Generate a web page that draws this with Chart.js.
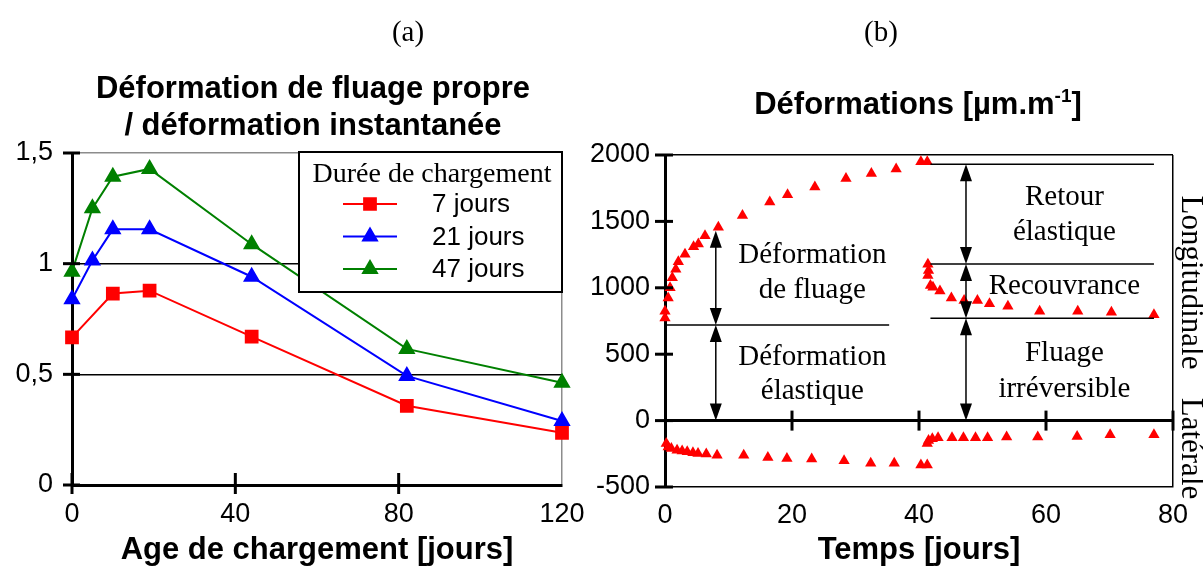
<!DOCTYPE html>
<html><head><meta charset="utf-8">
<script src="https://cdn.jsdelivr.net/npm/chart.js@4/dist/chart.umd.min.js"></script>
<style>
html,body{margin:0;padding:0;background:#fff;width:1203px;height:569px;overflow:hidden;position:relative}
.wrap{position:absolute;top:0}
#wa{left:0;width:600px;height:569px}
#wb{left:570px;width:633px;height:569px}
.lbl{position:absolute;font-family:"Liberation Serif","Times New Roman",serif;font-size:29px;color:#000;transform:translate(-50%,-50%);white-space:nowrap;line-height:1}
.ttl{position:absolute;font-family:"Liberation Sans",Arial,sans-serif;font-weight:bold;font-size:31px;color:#000;transform:translate(-50%,-50%);white-space:nowrap;text-align:center;line-height:37px}
.ttl sup{font-size:19px;vertical-align:12px;line-height:0}
</style></head>
<body>
<div class="wrap" id="wa"><canvas id="ca" width="600" height="569"></canvas></div>
<div class="wrap" id="wb"><canvas id="cb" width="633" height="569"></canvas></div>
<div class="lbl" style="left:408px;top:31px">(a)</div>
<div class="lbl" style="left:881px;top:31px">(b)</div>
<div class="ttl" style="left:313px;top:106px">Déformation de fluage propre<br>/ déformation instantanée</div>
<div class="ttl" style="left:918px;top:103px">Déformations [µm.m<sup>-1</sup>]</div>
<script>
// ---------- Panel (a) data ----------
const ages7 = [0, 10, 19, 44, 82, 120];
const ratio7 = [0.667, 0.865, 0.878, 0.670, 0.358, 0.236];
const ages = [0, 5, 10, 19, 44, 82, 120];
const ratio21 = [0.839, 1.014, 1.155, 1.155, 0.941, 0.493, 0.289];
const ratio47 = [0.964, 1.250, 1.393, 1.428, 1.088, 0.615, 0.462];
const seriesLabels = ['7 jours', '21 jours', '47 jours'];
const legendTitle = 'Durée de chargement';
const ageTickLabels = ['0', '40', '80', '120'];
const ratioTickLabels = ['0', '0,5', '1', '1,5'];
const xTitleA = 'Age de chargement [jours]';

// ---------- Panel (b) data ----------
const tLong = [0, 0, 0.5, 0.8, 1.15, 1.7, 2.1, 3.15, 4.5, 5.25, 6.3, 8.4, 12.2, 16.5, 19.3, 23.6, 28.5, 32.5, 36.4, 40.3, 41.3,
  41.4, 41.5, 41.4, 41.8, 42.2, 43.3, 45.1, 47.1, 49.2, 51.1, 54.0, 59.0, 65.0, 70.3, 77.0];
const epsLong = [772, 823, 924, 1000, 1076, 1139, 1197, 1253, 1309, 1329, 1392, 1456, 1544, 1646, 1701, 1759, 1823, 1861, 1894, 1949, 1949,
  1177, 1131, 1093, 1018, 1005, 975, 924, 904, 904, 879, 861, 823, 823, 816, 798];
const tLat = [0.2, 0.5, 1.0, 1.9, 2.7, 3.5, 4.4, 5.2, 6.5, 8.2, 12.4, 16.2, 19.2, 23.1, 28.2, 32.4, 36.1, 40.3, 41.3,
  41.3, 41.5, 42.1, 43.0, 45.2, 47.0, 48.9, 50.8, 53.8, 58.7, 64.9, 70.1, 77.0];
const epsLat = [-173, -198, -210, -223, -228, -235, -243, -248, -252, -260, -260, -277, -285, -290, -302, -322, -322, -334, -334,
  -173, -149, -136, -129, -129, -129, -129, -129, -124, -124, -119, -106, -106];
const timeTickLabels = ['0', '20', '40', '60', '80'];
const strainTickLabels = ['-500', '0', '500', '1000', '1500', '2000'];
const xTitleB = 'Temps [jours]';
const sideLabels = [{text: 'Longitudinale', y: 1040}, {text: 'Latérale', y: -210}];
// annotation guides (data units)
const guideLines = [{y: 720, x0: 0, x1: 35.3}, {y: 1930, x0: 41.8, x1: 77}, {y: 1180, x0: 41.8, x1: 77}, {y: 770, x0: 41.8, x1: 77}];
const guideArrows = [{x: 8, y0: 1430, y1: 720}, {x: 8, y0: 720, y1: 0}, {x: 47.4, y0: 1930, y1: 1180}, {x: 47.4, y0: 1180, y1: 770}, {x: 47.4, y0: 770, y1: 0}];
const guideTexts = [
  {text: 'Déformation', x: 23.2, y: 1185}, {text: 'de fluage', x: 23.2, y: 925},
  {text: 'Déformation', x: 23.2, y: 420}, {text: 'élastique', x: 23.2, y: 160},
  {text: 'Retour', x: 62.9, y: 1620}, {text: 'élastique', x: 62.9, y: 1360},
  {text: 'Recouvrance', x: 62.9, y: 950},
  {text: 'Fluage', x: 62.9, y: 450}, {text: 'irréversible', x: 62.9, y: 178}
];

const SANS = '"Liberation Sans", Arial, sans-serif';
const SERIF = '"Liberation Serif", "Times New Roman", serif';
Chart.defaults.font.family = SANS;
Chart.defaults.color = '#000';

const pts = (xs, ys) => xs.map((x, i) => ({x: x, y: ys[i]}));

// crossing tick marks on the axes
const crossTicks = {
  id: 'crossTicks',
  afterDraw(chart, args, o) {
    const ctx = chart.ctx, xs = chart.scales.x, ys = chart.scales.y;
    ctx.save();
    ctx.strokeStyle = '#000'; ctx.lineWidth = 3;
    const ax = xs.getPixelForValue(o.yAxisAt);
    o.yTicks.forEach(v => {
      const p = ys.getPixelForValue(v);
      ctx.beginPath(); ctx.moveTo(ax - o.yOut, p); ctx.lineTo(ax + o.yIn, p); ctx.stroke();
    });
    const ay = ys.getPixelForValue(o.xAxisAt);
    o.xTicks.forEach(v => {
      const p = xs.getPixelForValue(v);
      ctx.beginPath(); ctx.moveTo(p, ay - o.xUp); ctx.lineTo(p, ay + o.xDown); ctx.stroke();
    });
    ctx.restore();
  }
};

// boxed legend for panel (a)
const boxLegend = {
  id: 'boxLegend',
  afterDatasetsDraw(chart) {
    const ctx = chart.ctx, ca = chart.chartArea;
    const w = 263, h = 140;
    const L = ca.right - w, T = ca.top - 1;
    ctx.save();
    ctx.fillStyle = '#fff';
    ctx.fillRect(L, T, w, h);
    ctx.strokeStyle = '#000'; ctx.lineWidth = 2;
    ctx.strokeRect(L, T, w, h);
    ctx.fillStyle = '#000';
    ctx.font = '28px ' + SERIF;
    ctx.textAlign = 'center'; ctx.textBaseline = 'alphabetic';
    ctx.fillText(legendTitle, L + 133, T + 30);
    chart.data.datasets.forEach((ds, i) => {
      const y = T + 52 + i * 32.5;
      ctx.strokeStyle = ds.borderColor; ctx.lineWidth = 2;
      ctx.beginPath(); ctx.moveTo(L + 44, y); ctx.lineTo(L + 98, y); ctx.stroke();
      ctx.fillStyle = ds.pointBackgroundColor; ctx.strokeStyle = ds.pointBorderColor;
      Chart.helpers.drawPoint(ctx, {pointStyle: ds.pointStyle, radius: ds.pointRadius, rotation: 0, borderWidth: 1}, L + 71, y);
      ctx.fillStyle = '#000';
      ctx.font = '26px ' + SANS;
      ctx.textAlign = 'left'; ctx.textBaseline = 'middle';
      ctx.fillText(ds.label, L + 133, y + 1);
    });
    ctx.restore();
  }
};

// annotations for panel (b)
const guides = {
  id: 'guides',
  afterDatasetsDraw(chart) {
    const ctx = chart.ctx, xs = chart.scales.x, ys = chart.scales.y, ca = chart.chartArea;
    const X = v => xs.getPixelForValue(v), Y = v => ys.getPixelForValue(v);
    ctx.save();
    ctx.strokeStyle = '#000'; ctx.fillStyle = '#000'; ctx.lineWidth = 1.5;
    guideLines.forEach(g => {
      ctx.beginPath(); ctx.moveTo(X(g.x0), Y(g.y)); ctx.lineTo(X(g.x1), Y(g.y)); ctx.stroke();
    });
    const head = (x, tipY, dir) => { // dir -1 points up, +1 points down
      ctx.beginPath(); ctx.moveTo(x, tipY); ctx.lineTo(x - 6, tipY - dir * 17); ctx.lineTo(x + 6, tipY - dir * 17); ctx.closePath(); ctx.fill();
    };
    guideArrows.forEach(a => {
      const x = X(a.x), yt = Y(a.y0), yb = Y(a.y1);
      ctx.beginPath(); ctx.moveTo(x, yt + 10); ctx.lineTo(x, yb - 10); ctx.stroke();
      head(x, yt, -1); head(x, yb, 1);
    });
    ctx.font = '29px ' + SERIF;
    ctx.textAlign = 'center'; ctx.textBaseline = 'alphabetic';
    guideTexts.forEach(t => ctx.fillText(t.text, X(t.x), Y(t.y)));
    ctx.font = '31px ' + SERIF;
    ctx.textBaseline = 'middle';
    sideLabels.forEach(s => {
      ctx.save();
      ctx.translate(ca.right + 17, Y(s.y));
      ctx.rotate(Math.PI / 2);
      ctx.fillText(s.text, 0, 0);
      ctx.restore();
    });
    ctx.restore();
  }
};

// ---------- Chart (a) ----------
new Chart(document.getElementById('ca'), {
  type: 'scatter',
  data: {
    datasets: [
      {label: seriesLabels[0], data: pts(ages7, ratio7), showLine: true, borderColor: '#ff0000', backgroundColor: '#ff0000',
        pointBackgroundColor: '#ff0000', pointBorderColor: '#ff0000', pointStyle: 'rect', pointRadius: 8.3, borderWidth: 2, clip: false},
      {label: seriesLabels[1], data: pts(ages, ratio21), showLine: true, borderColor: '#0000ff', backgroundColor: '#0000ff',
        pointBackgroundColor: '#0000ff', pointBorderColor: '#0000ff', pointStyle: 'triangle', pointRadius: 8, borderWidth: 2, clip: false},
      {label: seriesLabels[2], data: pts(ages, ratio47), showLine: true, borderColor: '#008000', backgroundColor: '#008000',
        pointBackgroundColor: '#008000', pointBorderColor: '#008000', pointStyle: 'triangle', pointRadius: 8, borderWidth: 2, clip: false}
    ]
  },
  options: {
    responsive: false, animation: false, devicePixelRatio: 1,
    layout: {padding: {top: 153, right: 38, left: 0, bottom: 0}},
    plugins: {legend: {display: false}, tooltip: {enabled: false},
      crossTicks: {yAxisAt: 0, xAxisAt: 0, yTicks: [0, 0.5, 1, 1.5], xTicks: [0, 40, 80], yOut: 9, yIn: 8, xUp: 12, xDown: 9}},
    scales: {
      x: {type: 'linear', min: 0, max: 120,
        ticks: {stepSize: 40, font: {size: 27}, color: '#000', padding: 13, maxRotation: 0, callback: (v, i) => ageTickLabels[i]},
        grid: {drawTicks: false, lineWidth: 1.5, color: c => c.tick && c.tick.value === 120 ? '#8c8c8c' : 'rgba(0,0,0,0)'},
        border: {display: true, color: '#000', width: 3},
        title: {display: true, text: xTitleA, font: {size: 31, weight: 'bold'}, color: '#000', padding: {top: 0, bottom: 0}},
        afterFit: s => { s.height = 84; }},
      y: {min: 0, max: 1.5,
        ticks: {stepSize: 0.5, font: {size: 27}, color: '#000', padding: 19, callback: (v, i) => ratioTickLabels[i]},
        grid: {drawTicks: false, lineWidth: 1.5, color: c => {
          if (!c.tick) return 'rgba(0,0,0,0)';
          const v = c.tick.value;
          return v === 1.5 ? '#8c8c8c' : (v === 0 ? 'rgba(0,0,0,0)' : '#000');
        }},
        border: {display: true, color: '#000', width: 3},
        afterFit: s => { s.width = 72; }}
    }
  },
  plugins: [crossTicks, boxLegend]
});

// ---------- Chart (b) ----------
new Chart(document.getElementById('cb'), {
  type: 'scatter',
  data: {
    datasets: [
      {label: 'Longitudinale', data: pts(tLong, epsLong), pointStyle: 'triangle', pointRadius: 6.5,
        pointBackgroundColor: '#ff0000', pointBorderColor: '#ff0000', borderWidth: 0, clip: false},
      {label: 'Latérale', data: pts(tLat, epsLat), pointStyle: 'triangle', pointRadius: 6.5,
        pointBackgroundColor: '#ff0000', pointBorderColor: '#ff0000', borderWidth: 0, clip: false}
    ]
  },
  options: {
    responsive: false, animation: false, devicePixelRatio: 1,
    layout: {padding: {top: 155, right: 30, left: 0, bottom: 0}},
    plugins: {legend: {display: false}, tooltip: {enabled: false},
      crossTicks: {yAxisAt: 0, xAxisAt: 0, yTicks: [-500, 0, 500, 1000, 1500, 2000], xTicks: [20, 40, 60, 80], yOut: 10, yIn: 8, xUp: 10, xDown: 10}},
    scales: {
      x: {type: 'linear', min: 0, max: 80,
        ticks: {stepSize: 20, font: {size: 27}, color: '#000', padding: 12, maxRotation: 0, callback: (v, i) => timeTickLabels[i]},
        grid: {drawTicks: false, lineWidth: 1.5, color: c => c.tick && c.tick.value === 80 ? '#000' : 'rgba(0,0,0,0)'},
        border: {display: true, color: '#000', width: 1.5},
        title: {display: true, text: xTitleB, font: {size: 31, weight: 'bold'}, color: '#000', padding: {top: 0, bottom: 0}},
        afterFit: s => { s.height = 82; }},
      y: {min: -500, max: 2000,
        ticks: {stepSize: 500, font: {size: 27}, color: '#000', padding: 15, callback: (v, i) => strainTickLabels[i]},
        grid: {drawTicks: false,
          lineWidth: c => c.tick && c.tick.value === 0 ? 3 : 1.5,
          color: c => {
            if (!c.tick) return 'rgba(0,0,0,0)';
            const v = c.tick.value;
            return (v === 0 || v === 2000) ? '#000' : 'rgba(0,0,0,0)';
          }},
        border: {display: true, color: '#000', width: 3},
        afterFit: s => { s.width = 95; }}
    }
  },
  plugins: [crossTicks, guides]
});
</script>
</body></html>
